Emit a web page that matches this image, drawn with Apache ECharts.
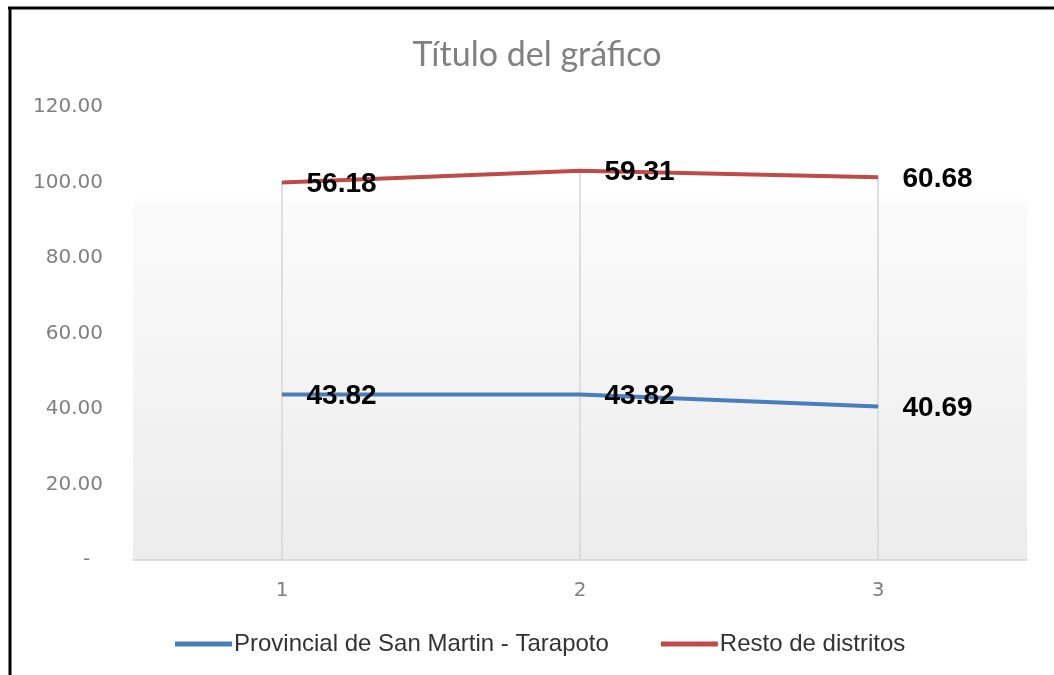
<!DOCTYPE html>
<html>
<head>
<meta charset="utf-8">
<title>Título del gráfico</title>
<script src="https://cdn.jsdelivr.net/npm/echarts@6/dist/echarts.min.js"></script>
<style>
	html, body { margin: 0; padding: 0; background: #fff; }
	#chart { width: 1054px; height: 675px; }
</style>
</head>
<body>
<div id="chart"></div>
<script>
// datos del gráfico
var categories = ["1", "2", "3"];
var seriesNames = ["Provincial de San Martin - Tarapoto", "Resto de distritos"];
var provincial = [43.82, 43.82, 40.69];
var resto = [56.18, 59.31, 60.68];
var yTicks = [0, 20, 40, 60, 80, 100, 120];

// total apilado, para las líneas de proyección
var totals = [];
for (var i = 0; i < categories.length; i++) {
	totals.push(+(provincial[i] + resto[i]).toFixed(2));
}

var myChart = echarts.init(document.getElementById("chart"));

var labelStyle = {
	show : true,
	position : "right",
	distance : 24,
	offset : [0, 2],
	color : "#000",
	fontFamily : "Liberation Sans, Arial, sans-serif",
	fontWeight : "bold",
	fontSize : 28,
	formatter : function(p) {
		return p.value.toFixed(2);
	}
};

var option = {
	backgroundColor : "#fff",
	title : {
		text : "Título del gráfico",
		left : 532,
		textAlign : "center",
		top : 33,
		textStyle : {
			fontFamily : "Lato, sans-serif",
			fontWeight : "normal",
			fontSize : 34,
			color : "#808080"
		}
	},
	legend : {
		data : seriesNames,
		left : 170,
		top : 627,
		icon : "rect",
		itemWidth : 57,
		itemHeight : 5,
		itemGap : 52,
		textStyle : {
			fontFamily : "Liberation Sans, Arial, sans-serif",
			fontSize : 24,
			color : "#333",
			padding : [0, 0, 0, -3]
		}
	},
	grid : {
		left : 133,
		right : 27,
		top : 107,
		bottom : 115,
		show : true,
		borderWidth : 0,
		backgroundColor : new echarts.graphic.LinearGradient(0, 0, 0, 1, [
			{ offset : 0, color : "#ffffff" },
			{ offset : 0.2, color : "#ffffff" },
			{ offset : 0.21, color : "#fbfbfb" },
			{ offset : 1, color : "#ececec" }
		])
	},
	xAxis : {
		type : "category",
		data : categories,
		boundaryGap : true,
		axisLine : { show : true, lineStyle : { color : "#d4d4d4", width : 1.5 } },
		axisTick : { show : false },
		axisLabel : {
			margin : 21,
			fontFamily : "DejaVu Sans, sans-serif",
			fontSize : 20,
			color : "#808080"
		},
		splitLine : { show : false }
	},
	yAxis : {
		type : "value",
		min : yTicks[0],
		max : yTicks[yTicks.length - 1],
		interval : yTicks[1] - yTicks[0],
		axisLine : { show : false },
		axisTick : { show : false },
		splitLine : { show : false },
		axisLabel : {
			margin : 30,
			fontFamily : "DejaVu Sans, sans-serif",
			fontSize : 20,
			color : "#808080",
			formatter : function(v) {
				return v === 0 ? "-  " : v.toFixed(2);
			}
		}
	},
	series : [ {
		name : "drop",
		type : "bar",
		data : totals,
		barWidth : 1.5,
		z : 1,
		silent : true,
		itemStyle : { color : "#d6d6d6" }
	}, {
		name : seriesNames[0],
		type : "line",
		stack : "total",
		data : provincial,
		z : 3,
		symbol : "circle",
		symbolSize : 1,
		itemStyle : { color : "#4a7ebb" },
		lineStyle : { color : "#4a7ebb", width : 4 },
		label : labelStyle
	}, {
		name : seriesNames[1],
		type : "line",
		stack : "total",
		data : resto,
		z : 3,
		symbol : "circle",
		symbolSize : 1,
		itemStyle : { color : "#be4b48" },
		lineStyle : { color : "#be4b48", width : 4 },
		label : labelStyle
	} ],
	graphic : [ {
		type : "line",
		shape : { x1 : 8, y1 : 8, x2 : 1054, y2 : 8 },
		style : { stroke : "#000", lineWidth : 3 }
	}, {
		type : "line",
		shape : { x1 : 10, y1 : 7, x2 : 10, y2 : 675 },
		style : { stroke : "#000", lineWidth : 3 }
	} ]
};

myChart.setOption(option);
</script>
</body>
</html>
